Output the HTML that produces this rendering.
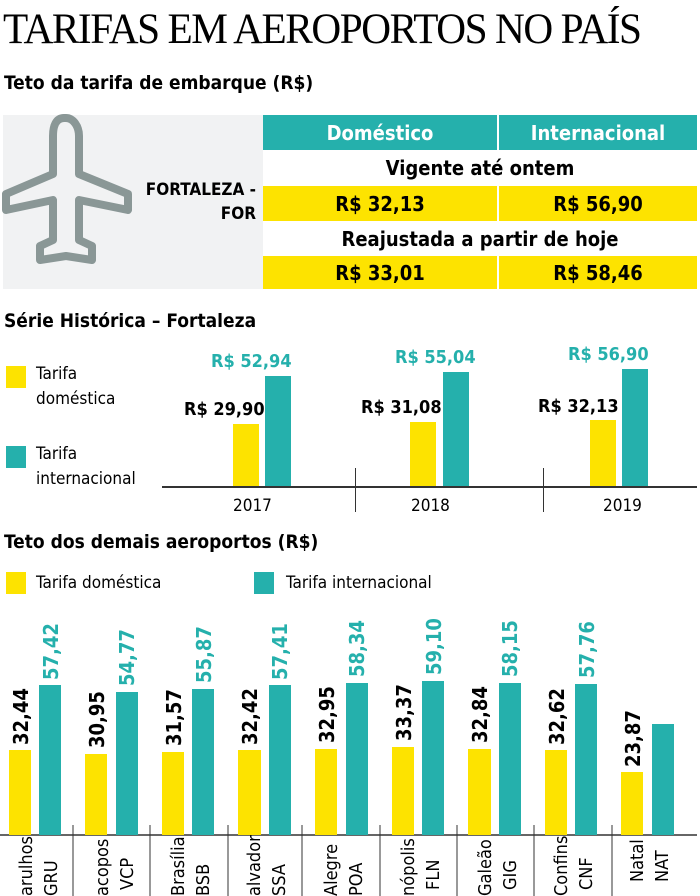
<!DOCTYPE html><html><head><meta charset="utf-8"><style>
body{margin:0;width:700px;height:896px;overflow:hidden;background:#fff;font-family:"DejaVu Sans Condensed","Liberation Sans",sans-serif;}
.a{position:absolute}
.t{font-family:"Liberation Serif",serif;font-size:43px;left:3px;top:5px;letter-spacing:-1.5px;transform:scaleX(0.96);transform-origin:left;white-space:nowrap}
.h{font-weight:bold;font-size:19px;white-space:nowrap}
.c{display:flex;align-items:center;justify-content:center;font-weight:bold;font-size:20px}
</style></head><body>
<div class="a t">TARIFAS EM AEROPORTOS NO PAÍS</div>
<div class="a h" style="left:4px;top:72px">Teto da tarifa de embarque (R$)</div>
<div class="a" style="left:3px;top:115px;width:260px;height:174px;background:#f1f2f3"></div>
<svg class="a" style="left:0px;top:112px" width="140" height="160"><path d="M64 6 C56 6 53 14 53 24 L53 62 L6 82 L6 98 L53 88 L53 128 L40 134 L40 148 L66 144 L92 148 L92 134 L79 128 L79 88 L128 98 L128 82 L79 62 L79 24 C79 14 73 6 66 6Z" fill="none" stroke="#8a9796" stroke-width="8" stroke-linejoin="round"/></svg>
<div class="a" style="left:120px;top:178px;width:136px;text-align:right;font-weight:bold;font-size:17px;line-height:24px">FORTALEZA -<br>FOR</div>
<div class="a c" style="left:263px;top:115px;width:234px;height:35px;background:#25b0ac;color:#fff">Doméstico</div>
<div class="a c" style="left:499px;top:115px;width:198px;height:35px;background:#25b0ac;color:#fff">Internacional</div>
<div class="a c" style="left:263px;top:150px;width:434px;height:36px">Vigente até ontem</div>
<div class="a c" style="left:263px;top:186px;width:234px;height:35px;background:#fde300">R$ 32,13</div>
<div class="a c" style="left:499px;top:186px;width:198px;height:35px;background:#fde300">R$ 56,90</div>
<div class="a c" style="left:263px;top:221px;width:434px;height:35px">Reajustada a partir de hoje</div>
<div class="a c" style="left:263px;top:256px;width:234px;height:33px;background:#fde300">R$ 33,01</div>
<div class="a c" style="left:499px;top:256px;width:198px;height:33px;background:#fde300">R$ 58,46</div>

<div class="a h" style="left:4px;top:310px">Série Histórica – Fortaleza</div>
<div class="a" style="left:6px;top:366px;width:20px;height:22px;background:#fde300"></div>
<div class="a" style="left:36px;top:362px;font-size:17px;line-height:25px">Tarifa<br>doméstica</div>
<div class="a" style="left:6px;top:446px;width:20px;height:22px;background:#25b0ac"></div>
<div class="a" style="left:36px;top:442px;font-size:17px;line-height:25px">Tarifa<br>internacional</div>
<div class="a" style="left:162px;top:486px;width:535px;height:1.5px;background:#333"></div>
<div class="a" style="left:355px;top:468px;width:1px;height:44px;background:#333"></div>
<div class="a" style="left:543px;top:468px;width:1px;height:44px;background:#333"></div>
<div class="a" style="left:233px;top:424px;width:26px;height:62px;background:#fde300"></div>
<div class="a" style="left:265px;top:376px;width:26px;height:110px;background:#25b0ac"></div>
<div class="a" style="left:410px;top:422px;width:26px;height:64px;background:#fde300"></div>
<div class="a" style="left:443px;top:372px;width:26px;height:114px;background:#25b0ac"></div>
<div class="a" style="left:590px;top:420px;width:26px;height:66px;background:#fde300"></div>
<div class="a" style="left:622px;top:369px;width:26px;height:117px;background:#25b0ac"></div>
<div class="a h" style="left:184px;top:399px;font-size:18px">R$ 29,90</div>
<div class="a h" style="left:211px;top:351px;font-size:18px;color:#25b0ac">R$ 52,94</div>
<div class="a h" style="left:361px;top:397px;font-size:18px">R$ 31,08</div>
<div class="a h" style="left:395px;top:347px;font-size:18px;color:#25b0ac">R$ 55,04</div>
<div class="a h" style="left:538px;top:396px;font-size:18px">R$ 32,13</div>
<div class="a h" style="left:568px;top:344px;font-size:18px;color:#25b0ac">R$ 56,90</div>
<div class="a" style="left:233px;top:496px;font-size:17px">2017</div>
<div class="a" style="left:411px;top:496px;font-size:17px">2018</div>
<div class="a" style="left:603px;top:496px;font-size:17px">2019</div>

<div class="a h" style="left:4px;top:531px">Teto dos demais aeroportos (R$)</div>
<div class="a" style="left:6px;top:572px;width:20px;height:22px;background:#fde300"></div>
<div class="a" style="left:36px;top:573px;font-size:17px">Tarifa doméstica</div>
<div class="a" style="left:254px;top:572px;width:20px;height:22px;background:#25b0ac"></div>
<div class="a" style="left:286px;top:573px;font-size:17px">Tarifa internacional</div>
<svg class="a" style="left:0;top:600px" width="700" height="296" font-family="DejaVu Sans Condensed, Liberation Sans, sans-serif">
<line x1="0" y1="235" x2="697" y2="235" stroke="#333" stroke-width="1.5"/>
<g stroke="#333" stroke-width="1">
<line x1="73" y1="225" x2="73" y2="296"/><line x1="150" y1="225" x2="150" y2="296"/><line x1="228" y1="225" x2="228" y2="296"/><line x1="302" y1="225" x2="302" y2="296"/><line x1="380" y1="225" x2="380" y2="296"/><line x1="457" y1="225" x2="457" y2="296"/><line x1="534" y1="225" x2="534" y2="296"/><line x1="612" y1="225" x2="612" y2="296"/></g>
<g font-size="18">
<g><rect x="9" y="150" width="22" height="85" fill="#fde300"/><rect x="39" y="85" width="22" height="150" fill="#25b0ac"/>
<text transform="translate(28,145) rotate(-90)" font-weight="bold" font-size="20">32,44</text><text transform="translate(58,80) rotate(-90)" font-weight="bold" font-size="20" fill="#25b0ac">57,42</text>
<text transform="translate(32,296) rotate(-90)">arulhos</text><text transform="translate(57,296) rotate(-90)">GRU</text></g>
<g><rect x="85" y="154" width="22" height="81" fill="#fde300"/><rect x="116" y="92" width="22" height="143" fill="#25b0ac"/>
<text transform="translate(104,148) rotate(-90)" font-weight="bold" font-size="20">30,95</text><text transform="translate(134,86) rotate(-90)" font-weight="bold" font-size="20" fill="#25b0ac">54,77</text>
<text transform="translate(108,296) rotate(-90)">acopos</text><text transform="translate(133,290) rotate(-90)">VCP</text></g>
<g><rect x="162" y="152" width="22" height="83" fill="#fde300"/><rect x="192" y="89" width="22" height="146" fill="#25b0ac"/>
<text transform="translate(181,146) rotate(-90)" font-weight="bold" font-size="20">31,57</text><text transform="translate(211,83) rotate(-90)" font-weight="bold" font-size="20" fill="#25b0ac">55,87</text>
<text transform="translate(184,296) rotate(-90)">Brasília</text><text transform="translate(209,296) rotate(-90)">BSB</text></g>
<g><rect x="238" y="150" width="23" height="85" fill="#fde300"/><rect x="269" y="85" width="22" height="150" fill="#25b0ac"/>
<text transform="translate(257,145) rotate(-90)" font-weight="bold" font-size="20">32,42</text><text transform="translate(287,80) rotate(-90)" font-weight="bold" font-size="20" fill="#25b0ac">57,41</text>
<text transform="translate(260,296) rotate(-90)">alvador</text><text transform="translate(285,296) rotate(-90)">SSA</text></g>
<g><rect x="315" y="149" width="22" height="86" fill="#fde300"/><rect x="346" y="83" width="22" height="152" fill="#25b0ac"/>
<text transform="translate(334,143) rotate(-90)" font-weight="bold" font-size="20">32,95</text><text transform="translate(364,77) rotate(-90)" font-weight="bold" font-size="20" fill="#25b0ac">58,34</text>
<text transform="translate(337,296) rotate(-90)">Alegre</text><text transform="translate(362,296) rotate(-90)">POA</text></g>
<g><rect x="392" y="147" width="22" height="88" fill="#fde300"/><rect x="422" y="81" width="22" height="154" fill="#25b0ac"/>
<text transform="translate(411,141) rotate(-90)" font-weight="bold" font-size="20">33,37</text><text transform="translate(441,75) rotate(-90)" font-weight="bold" font-size="20" fill="#25b0ac">59,10</text>
<text transform="translate(414,296) rotate(-90)">nópolis</text><text transform="translate(439,290) rotate(-90)">FLN</text></g>
<g><rect x="468" y="149" width="23" height="86" fill="#fde300"/><rect x="499" y="83" width="22" height="152" fill="#25b0ac"/>
<text transform="translate(487,143) rotate(-90)" font-weight="bold" font-size="20">32,84</text><text transform="translate(517,77) rotate(-90)" font-weight="bold" font-size="20" fill="#25b0ac">58,15</text>
<text transform="translate(491,296) rotate(-90)">Galeão</text><text transform="translate(516,290) rotate(-90)">GIG</text></g>
<g><rect x="545" y="150" width="22" height="85" fill="#fde300"/><rect x="575" y="84" width="22" height="151" fill="#25b0ac"/>
<text transform="translate(564,145) rotate(-90)" font-weight="bold" font-size="20">32,62</text><text transform="translate(594,78) rotate(-90)" font-weight="bold" font-size="20" fill="#25b0ac">57,76</text>
<text transform="translate(567,296) rotate(-90)">Confins</text><text transform="translate(592,290) rotate(-90)">CNF</text></g>
<g><rect x="621" y="172" width="22" height="63" fill="#fde300"/><rect x="652" y="124" width="22" height="111" fill="#25b0ac"/>
<text transform="translate(640,167) rotate(-90)" font-weight="bold" font-size="20">23,87</text>
<text transform="translate(643,282) rotate(-90)">Natal</text><text transform="translate(668,282) rotate(-90)">NAT</text></g>
</g></svg>
</body></html>
